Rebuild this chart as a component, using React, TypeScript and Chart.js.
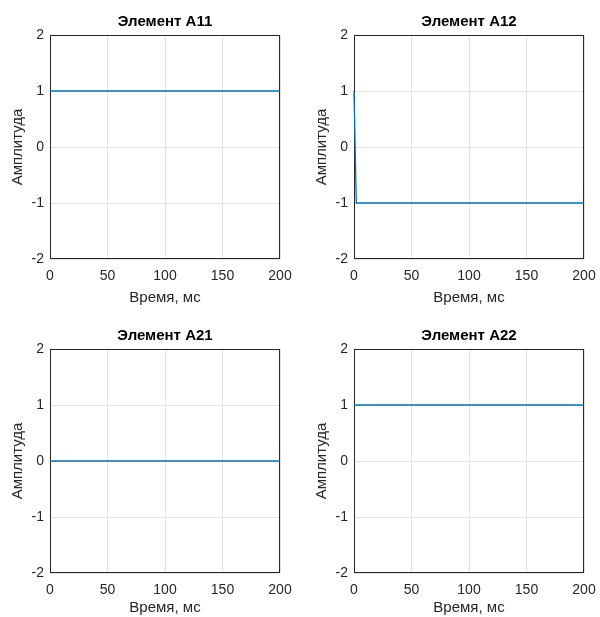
import React, { useEffect, useRef } from "react";
import { Chart, registerables } from "chart.js";
Chart.register(...registerables);

const xMin = 0;
const xMax = 200;
const xStep = 50;
const yMin = -2;
const yMax = 2;
const yStep = 1;
const xLabel = "Время, мс";
const yLabel = "Амплитуда";
const titles = ["Элемент А11", "Элемент А12", "Элемент А21", "Элемент А22"];

const timeA11 = [0, 200];
const ampA11 = [1, 1];
const timeA12 = [0, 2, 200];
const ampA12 = [1, -1, -1];
const timeA21 = [0, 200];
const ampA21 = [0, 0];
const timeA22 = [0, 200];
const ampA22 = [1, 1];

const FONT = "'Liberation Sans', Arial, Helvetica, sans-serif";

const boxPlugin = {
  id: "boxTitle",
  beforeDatasetsDraw(chart: any) {
    const { ctx, chartArea: a } = chart;
    ctx.save();
    ctx.strokeStyle = "#262626";
    ctx.lineWidth = 1;
    const l = Math.round(a.left) + 0.5;
    const t = Math.round(a.top) + 0.5;
    const r = Math.round(a.right) - 0.5;
    const b = Math.round(a.bottom) - 0.5;
    ctx.strokeRect(l, t, r - l, b - t);
    ctx.restore();
  },
  afterDraw(chart: any, _args: any, opts: any) {
    const { ctx, chartArea: a } = chart;
    ctx.save();
    ctx.font = `bold 15px ${FONT}`;
    ctx.textAlign = "center";
    ctx.textBaseline = "alphabetic";
    ctx.fillStyle = "#000";
    ctx.fillText(opts.text, (a.left + a.right) / 2, a.top - 9);
    ctx.restore();
  },
};

function Panel(props: {
  left: number;
  top: number;
  width: number;
  height: number;
  padRight: number;
  xAxisH: number;
  xTitlePad: number;
  title: string;
  time: number[];
  amp: number[];
}) {
  const ref = useRef<HTMLCanvasElement>(null);
  useEffect(() => {
    const canvas = ref.current!;
    const data = props.time.map((t, i) => ({ x: t, y: props.amp[i] }));
    const chart = new Chart(canvas, {
      type: "line",
      data: {
        datasets: [
          {
            data,
            borderColor: "#0072BD",
            borderWidth: 1.3,
            pointRadius: 0,
            tension: 0,
            fill: false,
            clip: 2,
          },
        ],
      },
      options: {
        animation: false,
        responsive: false,
        devicePixelRatio: 1,
        events: [],
        layout: { padding: { top: 35, right: props.padRight, left: 0, bottom: 0 } },
        plugins: {
          legend: { display: false },
          tooltip: { enabled: false },
          title: { display: false },
          boxTitle: { text: props.title },
        } as any,
        scales: {
          x: {
            type: "linear",
            min: xMin,
            max: xMax,
            ticks: { stepSize: xStep, color: "#262626", font: { family: FONT, size: 14 }, padding: 9, maxRotation: 0 },
            grid: { color: "#e3e3e3", drawTicks: false },
            border: { display: false },
            title: {
              display: true,
              text: xLabel,
              color: "#262626",
              font: { family: FONT, size: 15 },
              padding: { top: 0, bottom: props.xTitlePad },
            },
            afterFit: (s: any) => {
              s.height = props.xAxisH;
              s.paddingLeft = 0;
              s.paddingRight = 0;
            },
          },
          y: {
            type: "linear",
            min: yMin,
            max: yMax,
            ticks: { stepSize: yStep, color: "#262626", font: { family: FONT, size: 14 }, padding: 6 },
            grid: { color: "#e3e3e3", drawTicks: false },
            border: { display: false },
            title: {
              display: true,
              text: yLabel,
              color: "#262626",
              font: { family: FONT, size: 15 },
              padding: { top: 9, bottom: 0 },
            },
            afterFit: (s: any) => {
              s.width = 50;
              s.paddingTop = 0;
              s.paddingBottom = 0;
            },
          },
        },
      },
      plugins: [boxPlugin],
    });
    return () => chart.destroy();
  }, []);
  return (
    <canvas
      ref={ref}
      width={props.width}
      height={props.height}
      style={{ position: "absolute", left: props.left, top: props.top, width: props.width, height: props.height }}
    />
  );
}

export default function App() {
  return (
    <div style={{ position: "fixed", left: 0, top: 0, width: 600, height: 617, overflow: "hidden", background: "#fff" }}>
      <Panel left={0} top={0} width={300} height={308} padRight={20} xAxisH={49} xTitlePad={1} title={titles[0]} time={timeA11} amp={ampA11} />
      <Panel left={304} top={0} width={296} height={308} padRight={16} xAxisH={49} xTitlePad={1} title={titles[1]} time={timeA12} amp={ampA12} />
      <Panel left={0} top={314} width={300} height={303} padRight={20} xAxisH={44} xTitlePad={0} title={titles[2]} time={timeA21} amp={ampA21} />
      <Panel left={304} top={314} width={296} height={303} padRight={16} xAxisH={44} xTitlePad={0} title={titles[3]} time={timeA22} amp={ampA22} />
    </div>
  );
}
